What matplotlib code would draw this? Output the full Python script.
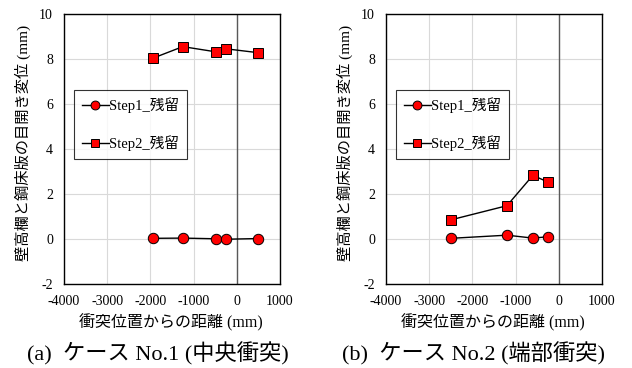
import matplotlib
matplotlib.use("Agg")
import matplotlib.pyplot as plt

plt.rcParams['font.family'] = ['Liberation Serif', 'Noto Sans CJK JP']
plt.rcParams['axes.unicode_minus'] = False

# panel (a) ケース No.1
x_a = [-1950, -1250, -490, -240, 500]
step1_a = [0.03, 0.04, 0.01, -0.01, 0.02]
step2_a = [8.03, 8.55, 8.32, 8.45, 8.28]

# panel (b) ケース No.2
x_b = [-2500, -1200, -600, -250]
step1_b = [0.03, 0.17, 0.04, 0.10]
step2_b = [0.85, 1.48, 2.83, 2.53]

xticks = [-4000, -3000, -2000, -1000, 0, 1000]
yticks = [-2, 0, 2, 4, 6, 8, 10]
series_names = ['Step1_残留', 'Step2_残留']
captions = ['(a)  ケース No.1 (中央衝突)', '(b)  ケース No.2 (端部衝突)']
ylabel = '壁高欄と鋼床版の目開き変位 (mm)'
xlabel = '衝突位置からの距離 (mm)'

fig = plt.figure(figsize=(6.32, 3.68), dpi=100)
W, H = 632, 368
axes_px = [(64, 14, 216, 270), (386, 14, 216, 270)]
caption_x = [158, 474]

panels = [(x_a, step1_a, step2_a), (x_b, step1_b, step2_b)]
for i, (xs, s1, s2) in enumerate(panels):
    l, t, w, h = axes_px[i]
    ax = fig.add_axes([l / W, 1 - (t + h) / H, w / W, h / H])
    ax.set_xlim(-4000, 1000)
    ax.set_ylim(-2, 10)
    ax.set_xticks(xticks)
    ax.set_yticks(yticks)
    ax.grid(True, color='#d9d9d9', linewidth=0.8)
    ax.set_axisbelow(True)
    ax.axvline(0, color='#595959', linewidth=1.0, zorder=1.5)
    ax.plot(xs, s1, color='black', linewidth=1.0, marker='o', markersize=7.5,
            markerfacecolor='#ff0000', markeredgecolor='black', markeredgewidth=0.7,
            label=series_names[0], zorder=3)
    ax.plot(xs, s2, color='black', linewidth=1.0, marker='s', markersize=7.5,
            markerfacecolor='#ff0000', markeredgecolor='black', markeredgewidth=0.7,
            label=series_names[1], zorder=3)
    ax.tick_params(length=0, labelsize=10, pad=8)
    for sp in ax.spines.values():
        sp.set_linewidth(1.0)
        sp.set_color('black')
    leg = ax.legend(loc='upper left', bbox_to_anchor=(0.045, 0.72), fontsize=10.5,
                    frameon=True, fancybox=False, edgecolor='black',
                    handlelength=1.85, labelspacing=1.5, borderpad=0.55,
                    handletextpad=0.0, borderaxespad=0, markerscale=0.85)
    leg.get_frame().set_linewidth(0.8)
    # axis titles placed by pixel position
    fig.text((l - 41) / W, 1 - (t + h / 2 - 6) / H, ylabel, fontsize=11,
             rotation=90, ha='center', va='center')
    fig.text((l + w / 2 - 1) / W, 1 - 323 / H, xlabel, fontsize=11.5,
             ha='center', va='center')
    fig.text(caption_x[i] / W, 1 - 354 / H, captions[i], fontsize=16,
             ha='center', va='center')

fig.savefig('out.png', dpi=100)
